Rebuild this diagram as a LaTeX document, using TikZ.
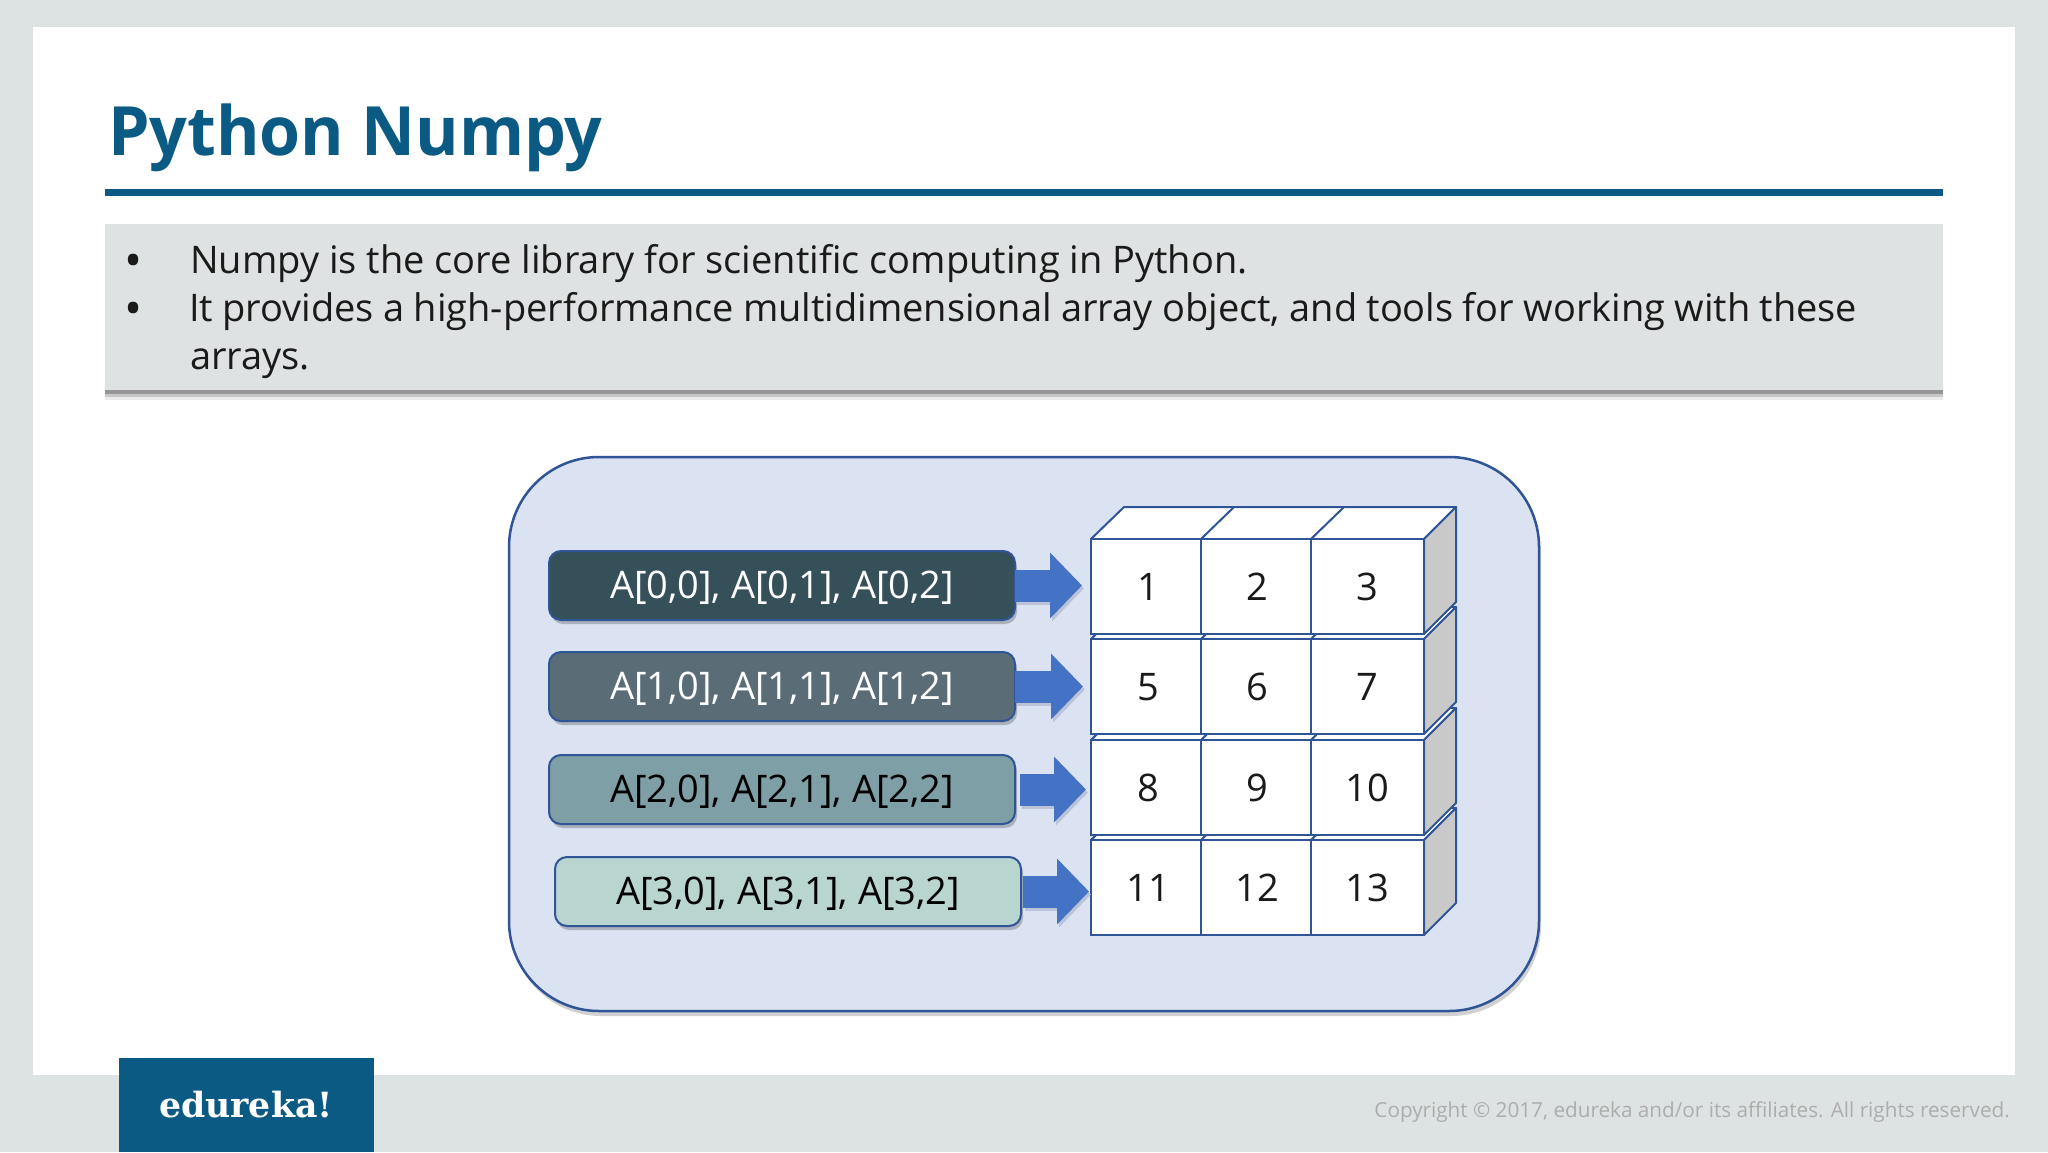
\documentclass[tikz,border=0pt]{standalone}
\usepackage{fontspec}
\setmainfont{Open Sans}
\newfontfamily\logofont{DejaVu Serif}
\newfontfamily\headfont[FakeStretch=.975]{Open Sans}
\usetikzlibrary{arrows.meta,shadows}
\definecolor{slidegray}{HTML}{DDE3E2}
\definecolor{barblue}{HTML}{0B5A84}
\definecolor{boxgray}{HTML}{DFE2E2}
\definecolor{panelfill}{HTML}{DBE2F2}
\definecolor{edgeblue}{HTML}{2F5597}
\definecolor{arrowblue}{HTML}{4472C4}
\definecolor{arrowshade}{HTML}{BAC3D8}
\definecolor{sidegray}{HTML}{C9C9C9}
\definecolor{rowa}{HTML}{36505A}
\definecolor{rowb}{HTML}{5A6C75}
\definecolor{rowc}{HTML}{7F9FA6}
\definecolor{rowd}{HTML}{B9D5D0}
\definecolor{inktext}{HTML}{1A1A1A}
\tikzset{
    bodytext/.style={anchor=base west,inner sep=0pt,font=\fontsize{38}{38}\selectfont,text=inktext},
    dotmark/.style={bodytext,font=\fontsize{48}{48}\selectfont},
    rowlabel/.style={draw=edgeblue,line width=2pt,rounded corners=12pt,anchor=north west,inner sep=0pt,outer sep=0pt,
        minimum width=466pt,minimum height=69pt,font=\fontsize{38}{38}\selectfont,
        drop shadow={shadow xshift=2pt,shadow yshift=-4pt,opacity=.22,fill=black}},
    cellbox/.style={draw=edgeblue,line width=2pt,fill=white,anchor=north west,inner sep=0pt,outer sep=0pt,
        minimum height=95pt,font=\fontsize{38}{38}\selectfont,text=inktext},
    facebox/.style={draw=edgeblue,line width=2pt,line join=round},
    fatarrow/.style={line width=32pt,-{Triangle[length=32pt,width=64pt]}}
}
\begin{document}
\begin{tikzpicture}[x=1pt,y=-1pt]
    \useasboundingbox (0,0) rectangle (2048,1152);
    \fill [slidegray] (0,0) rectangle (2048,1152);
    \fill [white] (33,27) rectangle (2015,1075);
    \node (title) [anchor=base west,inner sep=0pt,text=barblue,font=\headfont\fontsize{68}{68}\selectfont\bfseries] at (108,155) {Python Numpy};
    \fill [barblue] (105,189) rectangle (1943,196);
    \node (introbox) [fill=boxgray,anchor=north west,inner sep=0pt,outer sep=0pt,minimum width=1838pt,minimum height=166pt,
        drop shadow={shadow xshift=0pt,shadow yshift=-10pt,opacity=.08,fill=black},
        drop shadow={shadow xshift=0pt,shadow yshift=-7pt,opacity=.15,fill=black},
        drop shadow={shadow xshift=0pt,shadow yshift=-4pt,opacity=.25,fill=black}] at (105,224) {};
    \node (dota) [dotmark] at (124,277) {•};
    \node (dotb) [dotmark] at (124,325) {•};
    \node (linea) [bodytext] at (190,273) {Numpy is the core library for scientific computing in Python.};
    \node (lineb) [bodytext] at (189,321) {\makebox[1668pt][s]{It provides a high-performance multidimensional array object, and tools for working with these}};
    \node (linec) [bodytext] at (190,369) {arrays.};
    \node (panel) [draw=edgeblue,line width=2.5pt,fill=panelfill,rounded corners=90pt,inner sep=0pt,outer sep=0pt,
        minimum width=1030pt,minimum height=554pt,
        drop shadow={shadow xshift=2pt,shadow yshift=-5pt,opacity=.18,fill=black}] at (1024,734) {};
    \foreach \r/\y/\na/\nb/\nc in {3/840/11/12/13,2/740/8/9/10,1/639/5/6/7,0/539/1/2/3} {
        \draw [facebox,fill=white] (1091,\y) -- (1124,\y-32) -- (1456,\y-32) -- (1424,\y) -- cycle;
        \draw [facebox] (1201,\y) -- (1234,\y-32);
        \draw [facebox] (1311,\y) -- (1344,\y-32);
        \draw [facebox,fill=sidegray] (1424,\y) -- (1456,\y-32) -- (1456,\y+63) -- (1424,\y+95) -- cycle;
        \node (cell\r a) [cellbox,minimum width=110pt,text depth=0pt] at (1091,\y) {\hspace{4pt}\na};
        \node (cell\r b) [cellbox,minimum width=110pt,text depth=0pt] at (1201,\y) {\hspace{3pt}\nb};
        \node (cell\r c) [cellbox,minimum width=113pt,text depth=0pt] at (1311,\y) {\nc};
    }
    \foreach \r/\x/\y/\shade/\ink/\txt/\from/\gap in {
        0/549/551/rowa/white/{A[0,0], A[0,1], A[0,2]}/0/9,
        1/549/652/rowb/white/{A[1,0], A[1,1], A[1,2]}/0/8,
        2/549/755/rowc/black/{A[2,0], A[2,1], A[2,2]}/5/5,
        3/555/857/rowd/black/{A[3,0], A[3,1], A[3,2]}/2/2} {
        \node (lab\r) [rowlabel,fill=\shade,text=\ink] at (\x,\y) {\raisebox{-2pt}[\height][\depth]{\txt}};
        \draw [fatarrow,arrowshade,shorten <=\from pt,shorten >=\gap pt,transform canvas={xshift=2pt,yshift=-3pt}] (lab\r.east) -- (lab\r.east -| cell\r a.west);
        \draw [fatarrow,arrowblue,shorten <=\from pt,shorten >=\gap pt] (lab\r.east) -- (lab\r.east -| cell\r a.west);
    }
    \node (logobox) [fill=barblue,anchor=north west,inner sep=0pt,outer sep=0pt,minimum width=255pt,minimum height=94pt] at (119,1058) {};
    \node (logo) [anchor=base,inner sep=0pt,text=white,font=\logofont\bfseries\fontsize{34.7}{35}\selectfont] at (246,1117) {edureka!};
    \node (copy) [anchor=base east,inner sep=0pt,text=black!32,font=\fontsize{20.7}{21}\selectfont] at (2010,1117) {Copyright © 2017, edureka and/or its affiliates. All rights reserved.};
\end{tikzpicture}
\end{document}
